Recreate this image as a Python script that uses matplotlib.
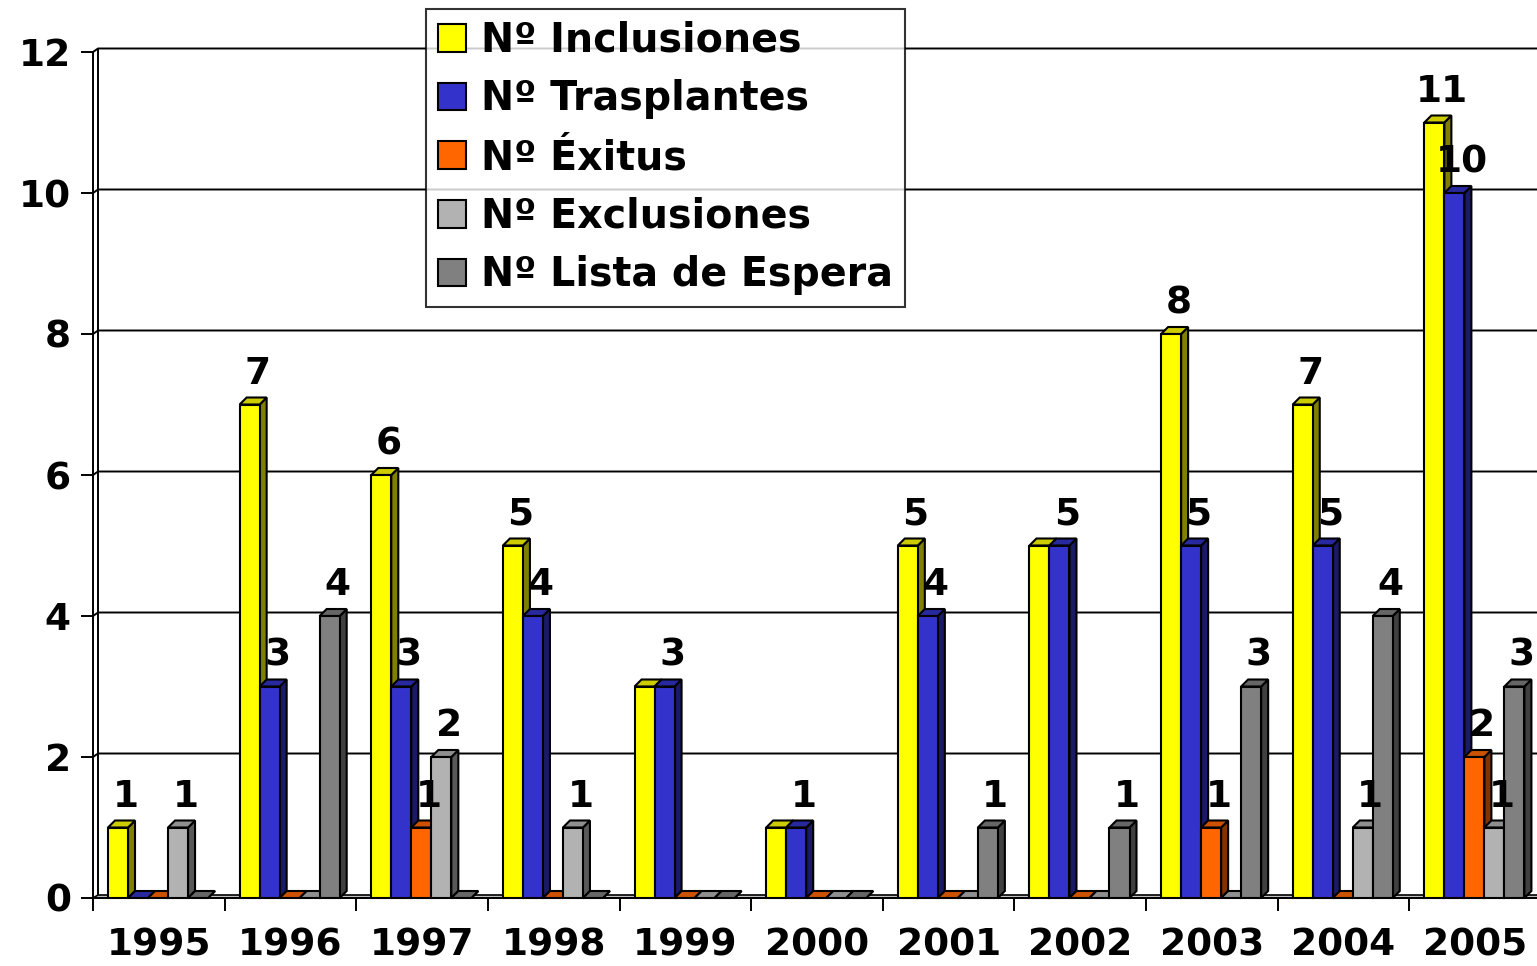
import numpy as np
import matplotlib
matplotlib.use("Agg")
import matplotlib.pyplot as plt
from matplotlib.patches import Polygon, Patch

years = ["1995", "1996", "1997", "1998", "1999", "2000", "2001", "2002", "2003", "2004", "2005"]
series = ["Nº Inclusiones", "Nº Trasplantes", "Nº Éxitus", "Nº Exclusiones", "Nº Lista de Espera"]
inclusiones = [1, 7, 6, 5, 3, 1, 5, 5, 8, 7, 11]
trasplantes = [0, 3, 3, 4, 3, 1, 4, 5, 5, 5, 10]
exitus = [0, 0, 1, 0, 0, 0, 0, 0, 1, 0, 2]
exclusiones = [1, 0, 2, 1, 0, 0, 0, 0, 0, 1, 1]
lista_espera = [0, 4, 0, 0, 0, 0, 1, 1, 3, 4, 3]

front = ["#FFFF00", "#3333CC", "#FF6600", "#B2B2B2", "#808080"]
top = ["#CCCC00", "#29299F", "#CC5200", "#8F8F8F", "#666666"]
side = ["#808000", "#1A1A66", "#803300", "#595959", "#404040"]

values = [inclusiones, trasplantes, exitus, exclusiones, lista_espera]

fig = plt.figure(figsize=(15.37, 9.66), dpi=100)
ax = fig.add_axes([93 / 1537, 1 - 898 / 966, 1448 / 1537, (898 - 52) / 966])
ax.set_xlim(-0.5, len(years) - 0.5)
ax.set_ylim(0, 12)

# 3D depth of bars and back wall, in data units
dx, dy = 7 / 131.6, 7 / 70.5
wx, wy = 5 / 131.6, 3.5 / 70.5
w = 0.152
x = np.arange(len(years))

# back wall gridlines
x_left, x_right = -0.5, len(years) - 0.5
for g in range(2, 13, 2):
    ax.plot([x_left, x_left + wx, x_right + 1], [g, g + wy, g + wy], color="black", lw=1.4, zorder=1, clip_on=False)
ax.plot([x_left + wx, x_left + wx], [wy, 12 + wy], color="black", lw=1.4, zorder=1, clip_on=False)

# floor
ax.add_patch(Polygon([(x_left, 0), (x_right + 1, 0), (x_right + 1, wy), (x_left + wx, wy)],
                     closed=True, facecolor="#C0C0C0", edgecolor="black", lw=1.2, zorder=2, clip_on=False))

z = 3
for i in range(len(years)):
    for k in range(len(series)):
        v = values[k][i]
        x0 = i - 0.31 + k * w - w / 2
        x1 = x0 + w
        ax.add_patch(Polygon([(x1, 0), (x1 + dx, dy), (x1 + dx, v + dy), (x1, v)], closed=True,
                             facecolor=side[k], edgecolor="black", lw=1.5, zorder=z, clip_on=False))
        ax.add_patch(Polygon([(x0, v), (x1, v), (x1 + dx, v + dy), (x0 + dx, v + dy)], closed=True,
                             facecolor=top[k], edgecolor="black", lw=1.5, zorder=z, clip_on=False))
        if v > 0:
            ax.add_patch(Polygon([(x0, 0), (x1, 0), (x1, v), (x0, v)], closed=True,
                                 facecolor=front[k], edgecolor="black", lw=1.5, zorder=z, clip_on=False))
        z += 1

# value labels (a label equal to the next bar's is hidden, as in the original)
for i in range(len(years)):
    for k in range(len(series)):
        v = values[k][i]
        if v == 0:
            continue
        if k + 1 < len(series) and values[k + 1][i] == v:
            continue
        xc = i - 0.31 + k * w + dx / 2 + 0.03
        ax.text(xc, v + dy + 0.08, str(v), ha="center", va="bottom", fontsize=27,
                fontweight="bold", zorder=100, clip_on=False)

for s in ["top", "right"]:
    ax.spines[s].set_visible(False)
ax.spines["left"].set_linewidth(1.4)
ax.spines["bottom"].set_linewidth(1.4)
ax.spines["left"].set_zorder(2)

ax.set_yticks(range(0, 13, 2))
ax.set_yticklabels([str(t) for t in range(0, 13, 2)], fontsize=27, fontweight="bold")
ax.tick_params(axis="y", length=9, width=1.4, pad=7)

ax.set_xticks(np.arange(-0.5, len(years) + 0.5, 1))
ax.set_xticklabels([])
ax.set_xticks(x, minor=True)
ax.set_xticklabels(years, minor=True, fontsize=27, fontweight="bold")
ax.tick_params(axis="x", which="major", length=9, width=1.4)
ax.tick_params(axis="x", which="minor", length=0, pad=21)

handles = [Patch(facecolor=front[k], edgecolor="black", lw=1.5) for k in range(len(series))]
leg = fig.legend(handles, series, loc="upper left", bbox_to_anchor=(426 / 1537, 1 - 9 / 966),
                 prop={"size": 28.5, "weight": "bold"}, frameon=True, fancybox=False,
                 handlelength=0.7, handleheight=0.7, handletextpad=0.38,
                 labelspacing=0.47, borderpad=0.3, borderaxespad=0)
leg.get_frame().set_edgecolor("black")
leg.get_frame().set_linewidth(1.5)
leg.set_zorder(200)

fig.savefig("out.png", dpi=100, facecolor="white")
